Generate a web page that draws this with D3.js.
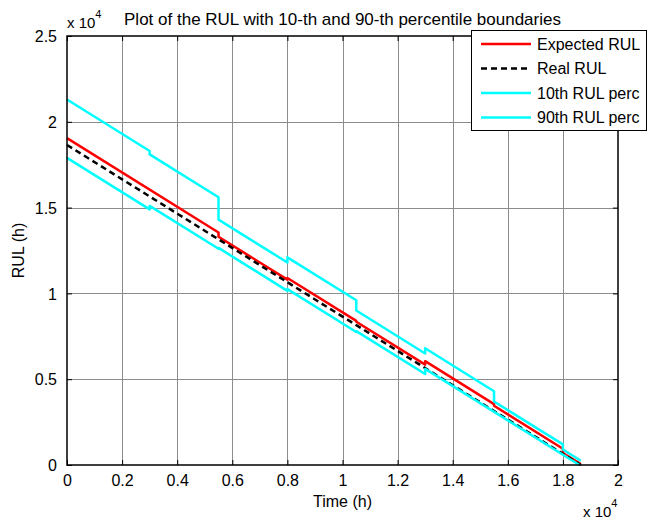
<!DOCTYPE html>
<html><head><meta charset="utf-8">
<script src="https://cdn.jsdelivr.net/npm/d3@7/dist/d3.min.js"></script>
<style>
html,body{margin:0;padding:0;background:#fff;}
svg{display:block;font-family:"Liberation Sans",Arial,Helvetica,sans-serif;}
</style></head><body>
<svg id="chart" width="649" height="520"></svg>
<script>
// ---- data (hours) ----
const seriesNames = ["Expected RUL", "Real RUL", "10th RUL perc", "90th RUL perc"];
const expectedTime = [0, 5500, 5500, 8000, 8000, 10500, 10500, 13000, 13000, 15500, 15500, 18000, 18000, 18650];
const expectedRUL  = [19050, 13550, 13300, 10800, 10900, 8400, 8350, 5850, 6050, 3550, 3450, 950, 700, 50];
const realTime = [0, 18650];
const realRUL  = [18650, 0];
const p10Time = [0, 3000, 3000, 5500, 5500, 8000, 8000, 10500, 10500, 13000, 13000, 18600];
const p10RUL  = [17900, 14900, 15100, 12600, 12650, 10150, 10250, 7750, 7800, 5300, 5600, 0];
const p90Time = [0, 3000, 3000, 5500, 5500, 8000, 8000, 10500, 10500, 13000, 13000, 15500, 15500, 18000, 18000, 18650];
const p90RUL  = [21300, 18300, 18100, 15600, 14300, 11800, 12100, 9600, 9000, 6500, 6800, 4300, 3700, 1200, 900, 250];
const xTickValues = [0, 2000, 4000, 6000, 8000, 10000, 12000, 14000, 16000, 18000, 20000];
const xTickLabels = ["0", "0.2", "0.4", "0.6", "0.8", "1", "1.2", "1.4", "1.6", "1.8", "2"];
const yTickValues = [0, 5000, 10000, 15000, 20000, 25000];
const yTickLabels = ["0", "0.5", "1", "1.5", "2", "2.5"];
const titleText = "Plot of the RUL with 10-th and 90-th percentile boundaries";
const xLabel = "Time (h)";
const yLabel = "RUL (h)";

// ---- layout ----
const L = 67, R = 618, T = 36, B = 465;
const svg = d3.select("#chart");
const x = d3.scaleLinear().domain([0, 20000]).range([L, R]);
const y = d3.scaleLinear().domain([0, 25000]).range([B, T]);

// grid
const grid = svg.append("g");
grid.selectAll("line.gx").data(xTickValues.slice(1, -1)).join("line")
  .attr("x1", d => Math.round(x(d)) + 0.5).attr("x2", d => Math.round(x(d)) + 0.5)
  .attr("y1", T).attr("y2", B)
  .attr("stroke", "#8c8c8c").attr("stroke-width", 1);
grid.selectAll("line.gy").data(yTickValues.slice(1, -1)).join("line")
  .attr("y1", d => Math.round(y(d)) + 0.5).attr("y2", d => Math.round(y(d)) + 0.5)
  .attr("x1", L).attr("x2", R)
  .attr("stroke", "#8c8c8c").attr("stroke-width", 1);

// series
const series = [
  {t: expectedTime, v: expectedRUL, color: "#ff0000", dash: null},
  {t: realTime, v: realRUL, color: "#000000", dash: "6,4"},
  {t: p10Time, v: p10RUL, color: "#00ffff", dash: null},
  {t: p90Time, v: p90RUL, color: "#00ffff", dash: null}
];
const line = d3.line().x(d => x(d[0])).y(d => y(d[1]));
series.forEach(s => {
  svg.append("path")
    .attr("d", line(s.t.map((t, i) => [t, s.v[i]])))
    .attr("fill", "none").attr("stroke", s.color).attr("stroke-width", 2.5)
    .attr("stroke-linejoin", "round")
    .attr("stroke-dasharray", s.dash);
});

// frame
svg.append("rect").attr("x", L).attr("y", T).attr("width", R - L).attr("height", B - T)
  .attr("fill", "none").attr("stroke", "#000").attr("stroke-width", 1.5);

// axes (ticks inward, both sides)
const fontSize = 16;
const xAxis = d3.axisBottom(x).tickValues(xTickValues).tickSizeInner(-5).tickSizeOuter(0)
  .tickPadding(9).tickFormat((d, i) => xTickLabels[i]);
const gx = svg.append("g").attr("transform", `translate(0,${B})`).call(xAxis);
const xTop = d3.axisTop(x).tickValues(xTickValues).tickSizeInner(-5).tickSizeOuter(0).tickFormat("");
const gxt = svg.append("g").attr("transform", `translate(0,${T})`).call(xTop);
const yAxis = d3.axisLeft(y).tickValues(yTickValues).tickSizeInner(-5).tickSizeOuter(0)
  .tickPadding(10).tickFormat((d, i) => yTickLabels[i]);
const gy = svg.append("g").attr("transform", `translate(${L},0)`).call(yAxis);
const yRight = d3.axisRight(y).tickValues(yTickValues).tickSizeInner(-5).tickSizeOuter(0).tickFormat("");
const gyr = svg.append("g").attr("transform", `translate(${R},0)`).call(yRight);
[gx, gxt, gy, gyr].forEach(g => {
  g.select(".domain").remove();
  g.selectAll(".tick line").attr("stroke", "#000").attr("stroke-width", 1);
  g.selectAll(".tick text").attr("fill", "#000").style("font-size", fontSize + "px")
    .style("font-family", "'Liberation Sans', Arial, sans-serif");
});
gx.selectAll(".tick text").attr("dy", "0.75em");
gy.selectAll(".tick text").attr("dy", "0.35em");

// title
svg.append("text").attr("x", (L + R) / 2).attr("y", 25).attr("text-anchor", "middle")
  .style("font-size", "17px").text(titleText);
// axis labels
svg.append("text").attr("x", (L + R) / 2).attr("y", 507).attr("text-anchor", "middle")
  .style("font-size", fontSize + "px").text(xLabel);
svg.append("text").attr("transform", `translate(24,${(T + B) / 2}) rotate(-90)`)
  .attr("text-anchor", "middle").style("font-size", fontSize + "px").text(yLabel);

// exponent labels
function expLabel(px, py) {
  const t = svg.append("text").attr("x", px).attr("y", py).style("font-size", "15px");
  t.append("tspan").text("x 10");
  t.append("tspan").attr("dy", -10).style("font-size", "11px").text("4");
}
expLabel(L, 28);
expLabel(583, 517);

// legend
const lg = svg.append("g");
lg.append("rect").attr("x", 471.5).attr("y", 30.5).attr("width", 175).attr("height", 100)
  .attr("fill", "#fff").attr("stroke", "#000").attr("stroke-width", 1);
const rowY = [44, 68.5, 93, 117.5];
series.forEach((s, i) => {
  lg.append("line").attr("x1", 481).attr("x2", 531).attr("y1", rowY[i]).attr("y2", rowY[i])
    .attr("stroke", s.color).attr("stroke-width", 2.5).attr("stroke-dasharray", s.dash);
  lg.append("text").attr("x", 537).attr("y", rowY[i]).attr("dy", "0.35em")
    .style("font-size", fontSize + "px").text(seriesNames[i]);
});
</script>
</body></html>
